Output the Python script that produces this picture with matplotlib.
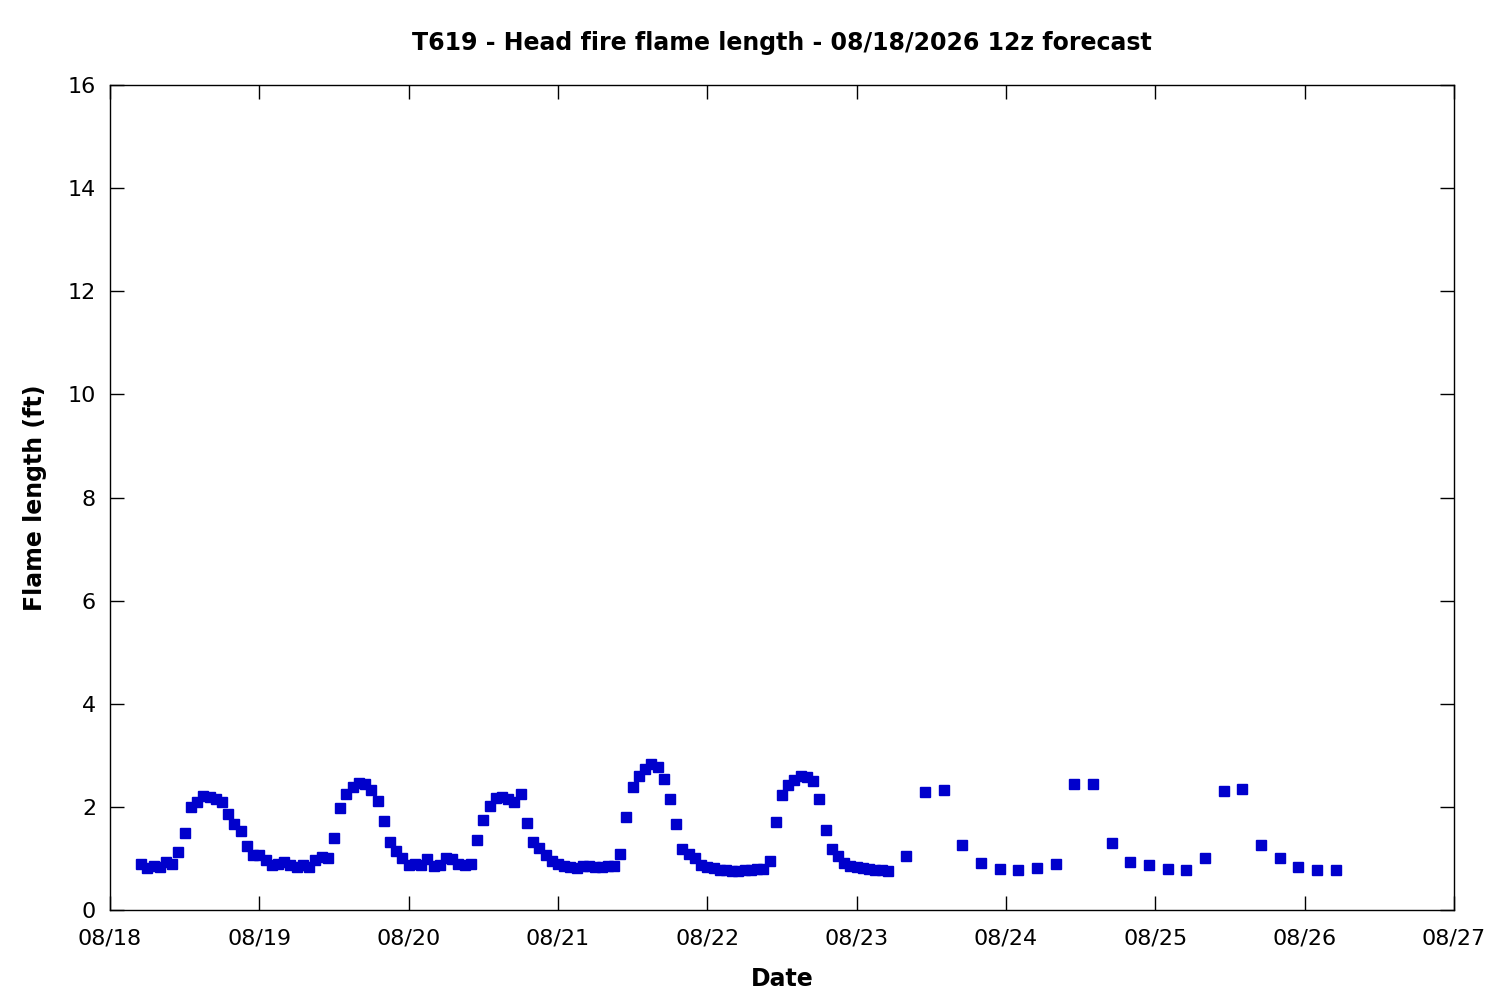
import pandas as pd
import matplotlib
matplotlib.use("Agg")
import matplotlib.pyplot as plt
import matplotlib.dates as mdates

# hourly forecast values (ft), from 08/18 05z
hourly_start = "2026-08-18 05:00"
hourly_vals = [
    0.90, 0.81, 0.85, 0.83, 0.93, 0.90, 1.12, 1.49, 1.99, 2.09, 2.22, 2.19, 2.15, 2.09, 1.87, 1.66, 1.54, 1.25, 1.06,
    1.07, 0.97, 0.88, 0.90, 0.93, 0.87, 0.84, 0.88, 0.83, 0.97, 1.03, 1.00, 1.39, 1.97, 2.25, 2.38, 2.47, 2.44, 2.33, 2.11, 1.73,
    1.31, 1.14, 1.00, 0.88, 0.90, 0.88, 0.99, 0.86, 0.88, 1.00, 0.98, 0.90, 0.88, 0.90, 1.35, 1.74, 2.01, 2.17, 2.19, 2.15,
    2.10, 2.25, 1.68, 1.31, 1.20, 1.06, 0.96, 0.90, 0.86, 0.83, 0.81, 0.85, 0.85, 0.83, 0.83, 0.85, 0.85, 1.08, 1.80, 2.38,
    2.59, 2.73, 2.83, 2.77, 2.55, 2.15, 1.66, 1.18, 1.08, 1.00, 0.88, 0.83, 0.81, 0.77, 0.77, 0.75, 0.75, 0.77, 0.77, 0.79,
    0.79, 0.96, 1.70, 2.24, 2.42, 2.52, 2.60, 2.57, 2.50, 2.15, 1.55, 1.18, 1.04, 0.92, 0.85, 0.83, 0.81, 0.79, 0.77, 0.77, 0.75,
]

# 3-hourly values after that
three_hr_start = "2026-08-23 08:00"
three_hr_vals = [
    1.04, 2.28, 2.32, 1.27, 0.92, 0.79, 0.77, 0.81, 0.90, 2.44, 2.44, 1.29,
    0.94, 0.88, 0.79, 0.77, 1.00, 2.30, 2.34, 1.27, 1.00, 0.83, 0.77, 0.77,
]

times = list(pd.date_range(hourly_start, periods=len(hourly_vals), freq="1h")) + \
    list(pd.date_range(three_hr_start, periods=len(three_hr_vals), freq="3h"))
vals = hourly_vals + three_hr_vals

fig = plt.figure(figsize=(15, 10), dpi=100)
ax = fig.add_axes([0.0733, 0.09, 0.896, 0.825])

ax.plot(times, vals, linestyle="none", marker="s", markersize=7, color="#0000cc")

ax.set_xlim(pd.Timestamp("2026-08-18"), pd.Timestamp("2026-08-27"))
ax.set_ylim(0, 16)
ax.set_yticks(range(0, 17, 2))
ax.xaxis.set_major_locator(mdates.DayLocator())
ax.xaxis.set_major_formatter(mdates.DateFormatter("%m/%d"))

ax.tick_params(direction="in", length=10, width=1, top=True, right=True, labelsize=16, pad=13)
ax.tick_params(axis="y", pad=10)
for sp in ax.spines.values():
    sp.set_linewidth(1)

ax.set_title("T619 - Head fire flame length - 08/18/2026 12z forecast", fontsize=17, fontweight="bold", pad=25)
ax.set_xlabel("Date", fontsize=17, fontweight="bold", labelpad=14)
ax.set_ylabel("Flame length (ft)", fontsize=17, fontweight="bold", labelpad=15)

plt.savefig("out.png")
